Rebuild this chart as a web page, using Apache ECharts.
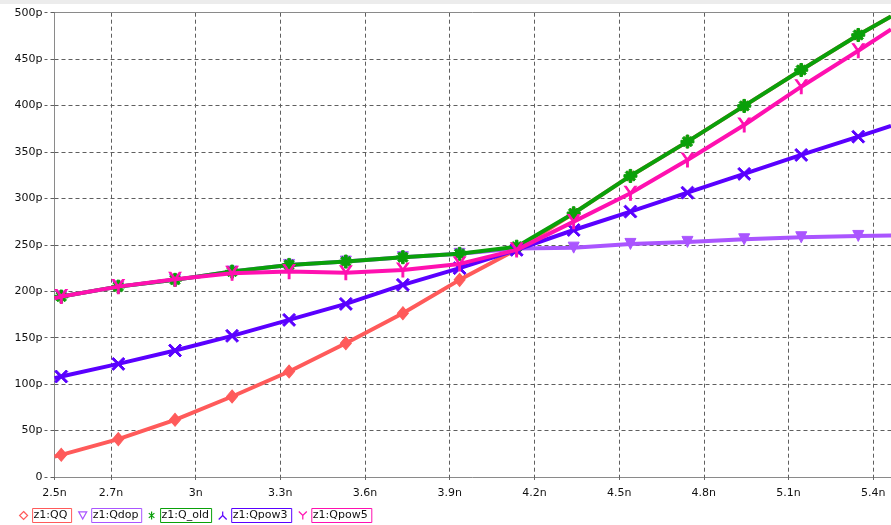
<!DOCTYPE html>
<html>
<head>
<meta charset="utf-8">
<script src="https://cdn.jsdelivr.net/npm/echarts@6/dist/echarts.min.js"></script>
<style>html,body{margin:0;padding:0;background:#fff;}#c{width:891px;height:525px;}</style>
</head>
<body>
<div id="c"></div>
<script>
// time in ns (data samples; first and last without markers)
const timeNs = [2.5, 2.524, 2.726, 2.927, 3.129, 3.331, 3.532, 3.734, 3.935, 4.137, 4.339, 4.540, 4.742, 4.943, 5.145, 5.347, 5.463];
// charge in pC
const qQQ    = [22, 23.9, 40.8, 61.6, 86.7, 113.6, 144, 176.4, 212.3, 245, 284, 324.2, 361.2, 399.6, 438.3, 476, 496];
const qQdop  = [192.5, 194.3, 205, 212.3, 221.2, 228.4, 232, 236.7, 240.3, 246, 247, 251, 253.2, 256, 258.2, 259.6, 260];
const qQold  = [192.5, 194.3, 205, 212.3, 221.2, 228.4, 232, 236.7, 240.3, 248, 284, 324.2, 361.2, 399.6, 438.3, 476, 496];
const qQpow3 = [106.5, 108.2, 121.8, 136.2, 152, 169.2, 186.4, 206.9, 224.9, 244.6, 266, 285.8, 306.2, 326.4, 346.8, 366.5, 378];
const qQpow5 = [192.5, 194.3, 205, 213, 219.5, 221.2, 220, 223, 229.5, 244.6, 275, 305.6, 341.4, 379.1, 420.3, 459, 482];
const seriesNames = ['z1:QQ', 'z1:Qdop', 'z1:Q_old', 'z1:Qpow3', 'z1:Qpow5'];
const xTickValues = [2.5, 2.7, 3.0, 3.3, 3.6, 3.9, 4.2, 4.5, 4.8, 5.1, 5.4];

const colors = ['#ff5a5a', '#aa55ff', '#0aa00a', '#5a00ff', '#ff10b0'];
const symbols = [
  'diamond',
  'path://M0,0 L10,0 L5,9 Z',
  'path://M4,0 H6 V10 H4 Z M0,4 H10 V6 H0 Z M1,2.4 L2.4,1 L9,7.6 L7.6,9 Z M7.6,1 L9,2.4 L2.4,9 L1,7.6 Z',
  'path://M0,1.2 L1.2,0 L5,3.8 L8.8,0 L10,1.2 L6.2,5 L10,8.8 L8.8,10 L5,6.2 L1.2,10 L0,8.8 L3.8,5 Z',
  'path://M0,0 L1.6,0 L5,4.2 L8.4,0 L10,0 L5.8,5.2 L5.8,10 L4.2,10 L4.2,5.2 Z'
];
const symbolSizes = [[11, 13], 11, 13, 13, [12, 14]];
const legendIcons = [
  'path://M5,0 L10,5 L5,10 L0,5 Z',
  'path://M0,0 L10,0 L5,9 Z',
  'path://M5,0 V10 M1.5,2 L8.5,8 M8.5,2 L1.5,8',
  'path://M5,0 V5 L0,10 M5,5 L10,10',
  'path://M0,0 L5,5 L10,0 M5,5 V10'
];
const legendWidths = [36, 47, 48, 57, 57];
const allData = [qQQ, qQdop, qQold, qQpow3, qQpow5];

function makeData(vals) {
  return timeNs.map((t, i) => {
    const d = { value: [t, vals[i]] };
    if (i === 0 || i === timeNs.length - 1) d.symbol = 'none';
    return d;
  });
}

const font = 'DejaVu Sans';
const chart = echarts.init(document.getElementById('c'), null, { renderer: 'canvas' });
const option = {
  backgroundColor: '#fff',
  animation: false,
  graphic: [{ type: 'rect', shape: { x: 0, y: 0, width: 891, height: 4 }, style: { fill: '#ececec' }, silent: true }],
  grid: { left: 54.5, right: 0, top: 12.7, bottom: 48 },
  xAxis: [{
    type: 'value', min: 2.5, max: 5.463,
    axisLine: { show: true, onZero: false, lineStyle: { color: '#8a8a8a', width: 1 } },
    axisTick: { show: true, customValues: xTickValues, length: 3, lineStyle: { color: '#6a6a6a' } },
    axisLabel: {
      customValues: xTickValues, color: '#111', fontFamily: font, fontSize: 11, margin: 11,
      formatter: v => parseFloat(v.toFixed(2)) + 'n'
    },
    splitLine: { show: true, lineStyle: { color: '#5f5f5f', type: [4, 3], width: 1 } }
  }, {
    type: 'value', min: 2.5, max: 5.463, position: 'top',
    axisLine: { show: true, onZero: false, lineStyle: { color: '#8a8a8a', width: 1 } },
    axisTick: { show: false }, axisLabel: { show: false }, splitLine: { show: false }
  }],
  yAxis: {
    type: 'value', min: 0, max: 500, interval: 50,
    axisLine: { show: true, onZero: false, lineStyle: { color: '#8a8a8a', width: 1 } },
    axisTick: { show: true, length: 10, lineStyle: { color: '#5f5f5f', type: [4, 3] } },
    axisLabel: { color: '#111', fontFamily: font, fontSize: 11, margin: 12, formatter: v => v === 0 ? '0' : v + 'p' },
    splitLine: { show: true, lineStyle: { color: '#5f5f5f', type: [4, 3], width: 1 } }
  },
  legend: {
    left: 14, top: 503, itemWidth: 8, itemHeight: 8, itemGap: 6,
    textStyle: { fontFamily: font, fontSize: 11, color: '#111' },
    data: seriesNames.map((n, i) => ({
      name: n, icon: legendIcons[i],
      itemStyle: { color: 'rgba(0,0,0,0)', borderColor: colors[i], borderWidth: 1.2 },
      textStyle: { borderColor: colors[i], borderWidth: 1, padding: [2, 2, 1, 1], width: legendWidths[i] }
    }))
  },
  series: seriesNames.map((n, i) => ({
    name: n, type: 'line', data: makeData(allData[i]),
    symbol: symbols[i], symbolSize: symbolSizes[i], showSymbol: true,
    lineStyle: { color: colors[i], width: 4 },
    itemStyle: { color: colors[i], borderColor: colors[i], borderWidth: 1 },
    z: 2 + i
  }))
};
chart.setOption(option);
</script>
</body>
</html>
